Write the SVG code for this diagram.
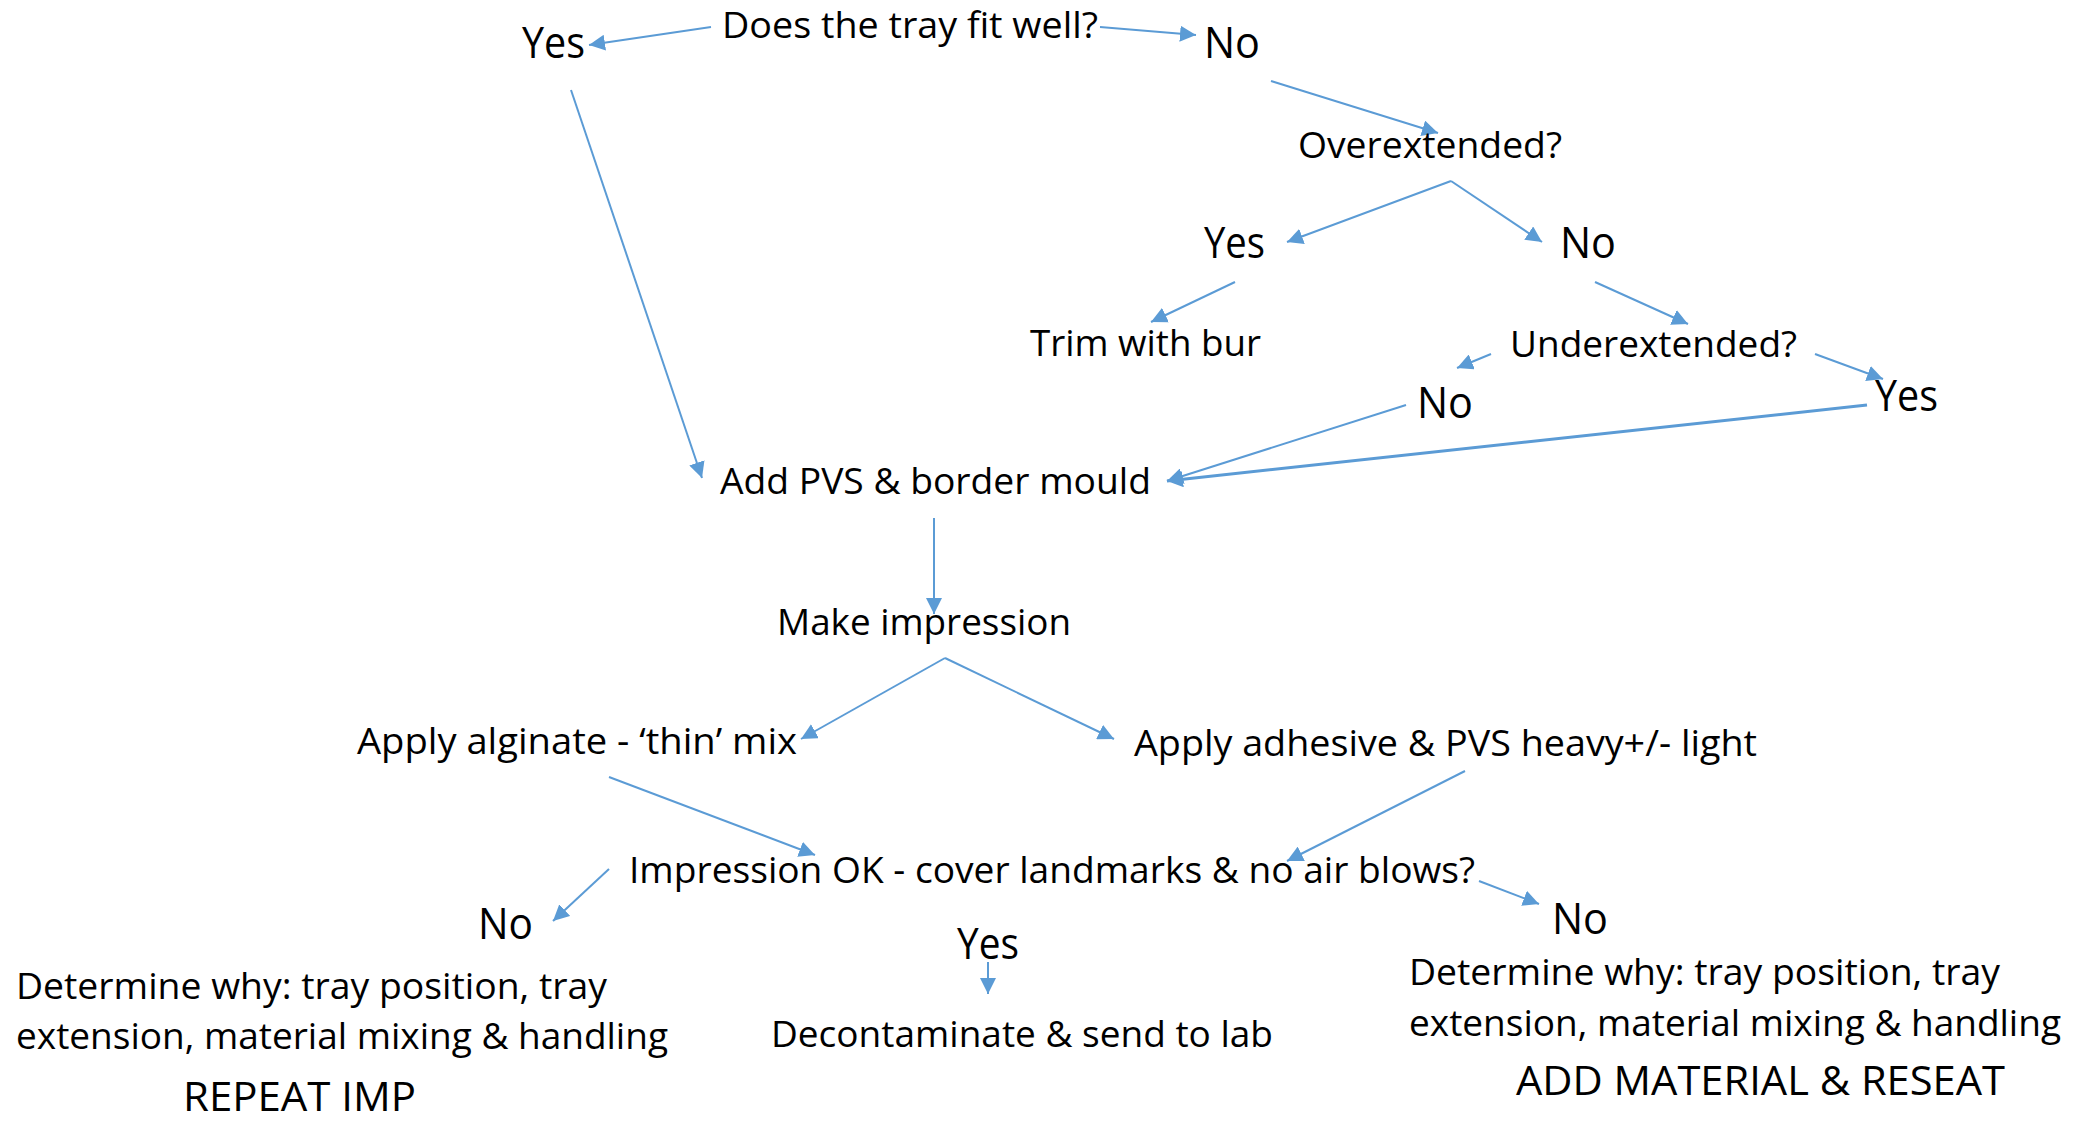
<svg xmlns="http://www.w3.org/2000/svg" width="2084" height="1121" viewBox="0 0 2084 1121">
<style>
text{font-family:"Open Sans","Noto Sans","Liberation Sans",sans-serif;fill:#000;}
.t{font-size:36px;}
.yn{font-size:44px;}
.big{font-size:40px;}
.c line{stroke:#5B9BD5;stroke-width:2;fill:none;}
.c .a{marker-end:url(#ah);}
</style>
<defs>
<marker id="ah" markerUnits="userSpaceOnUse" markerWidth="18" markerHeight="16" refX="16" refY="8" orient="auto">
<path d="M0,0 L16,8 L0,16 Z" fill="#5B9BD5"/>
</marker>
</defs>
<rect width="2084" height="1121" fill="#fff"/>
<g class="c" id="connectors">
<line class="a" x1="711" y1="27" x2="589" y2="45"/>
<line class="a" x1="1100" y1="27" x2="1196" y2="35"/>
<line class="a" x1="1271" y1="81" x2="1438" y2="133"/>
<line class="a" x1="1451" y1="181" x2="1287" y2="242"/>
<line class="a" x1="1451" y1="181" x2="1542" y2="242"/>
<line class="a" x1="1235" y1="282" x2="1151" y2="322"/>
<line class="a" x1="1595" y1="282" x2="1688" y2="324"/>
<line class="a" x1="1491" y1="354" x2="1457" y2="368"/>
<line class="a" x1="1815" y1="354" x2="1883" y2="379"/>
<line class="a" x1="1406" y1="405" x2="1167" y2="481"/>
<line class="a" x1="1867" y1="405" x2="1167" y2="481" style="stroke-width:3"/>
<line class="a" x1="571" y1="90" x2="702" y2="478"/>
<line class="a" x1="934" y1="518" x2="934" y2="614"/>
<line class="a" x1="945" y1="658" x2="801" y2="739"/>
<line class="a" x1="945" y1="658" x2="1114" y2="739"/>
<line class="a" x1="609" y1="777" x2="815" y2="855"/>
<line class="a" x1="1465" y1="771" x2="1287" y2="861"/>
<line class="a" x1="609" y1="869" x2="553" y2="921"/>
<line class="a" x1="1479" y1="881" x2="1539" y2="904"/>
<line class="a" x1="988" y1="962" x2="988" y2="994"/>
</g>
<g id="n1"><text class="t" x="722" y="38" textLength="376" lengthAdjust="spacingAndGlyphs">Does the tray fit well?</text></g>
<g id="n2"><text class="yn" x="522" y="58" textLength="63" lengthAdjust="spacingAndGlyphs">Yes</text></g>
<g id="n3"><text class="yn" x="1204" y="58" textLength="56" lengthAdjust="spacingAndGlyphs">No</text></g>
<g id="n4"><text class="t" x="1298" y="158" textLength="264" lengthAdjust="spacingAndGlyphs">Overextended?</text></g>
<g id="n5"><text class="yn" x="1204" y="258" textLength="61" lengthAdjust="spacingAndGlyphs">Yes</text></g>
<g id="n6"><text class="yn" x="1560" y="258" textLength="56" lengthAdjust="spacingAndGlyphs">No</text></g>
<g id="n7"><text class="t" x="1030" y="356" textLength="231" lengthAdjust="spacingAndGlyphs">Trim with bur</text></g>
<g id="n8"><text class="t" x="1510" y="357" textLength="287" lengthAdjust="spacingAndGlyphs">Underextended?</text></g>
<g id="n9"><text class="yn" x="1417" y="418" textLength="56" lengthAdjust="spacingAndGlyphs">No</text></g>
<g id="n10"><text class="yn" x="1875" y="411" textLength="63" lengthAdjust="spacingAndGlyphs">Yes</text></g>
<g id="n11"><text class="t" x="720" y="494" textLength="431" lengthAdjust="spacingAndGlyphs">Add PVS &amp; border mould</text></g>
<g id="n12"><text class="t" x="777" y="635" textLength="294" lengthAdjust="spacingAndGlyphs">Make impression</text></g>
<g id="n13"><text class="t" x="357" y="754" textLength="440" lengthAdjust="spacingAndGlyphs">Apply alginate - ‘thin’ mix</text></g>
<g id="n14"><text class="t" x="1134" y="756" textLength="623" lengthAdjust="spacingAndGlyphs">Apply adhesive &amp; PVS heavy+/- light</text></g>
<g id="n15"><text class="t" x="629" y="883" textLength="846" lengthAdjust="spacingAndGlyphs">Impression OK - cover landmarks &amp; no air blows?</text></g>
<g id="n16"><text class="yn" x="478" y="939" textLength="55" lengthAdjust="spacingAndGlyphs">No</text></g>
<g id="n17"><text class="yn" x="957" y="959" textLength="62" lengthAdjust="spacingAndGlyphs">Yes</text></g>
<g id="n18"><text class="t" x="16" y="999" textLength="591" lengthAdjust="spacingAndGlyphs">Determine why: tray position, tray</text><text class="t" x="16" y="1049" textLength="652" lengthAdjust="spacingAndGlyphs">extension, material mixing &amp; handling</text></g>
<g id="n19"><text class="t" x="771" y="1047" textLength="502" lengthAdjust="spacingAndGlyphs">Decontaminate &amp; send to lab</text></g>
<g id="n20"><text class="yn" x="1552" y="934" textLength="56" lengthAdjust="spacingAndGlyphs">No</text></g>
<g id="n21"><text class="t" x="1409" y="985" textLength="591" lengthAdjust="spacingAndGlyphs">Determine why: tray position, tray</text><text class="t" x="1409" y="1036" textLength="652" lengthAdjust="spacingAndGlyphs">extension, material mixing &amp; handling</text></g>
<g id="n22"><text class="big" x="183" y="1111" textLength="233" lengthAdjust="spacingAndGlyphs">REPEAT IMP</text></g>
<g id="n23"><text class="big" x="1516" y="1095" textLength="489" lengthAdjust="spacingAndGlyphs">ADD MATERIAL &amp; RESEAT</text></g>
</svg>
